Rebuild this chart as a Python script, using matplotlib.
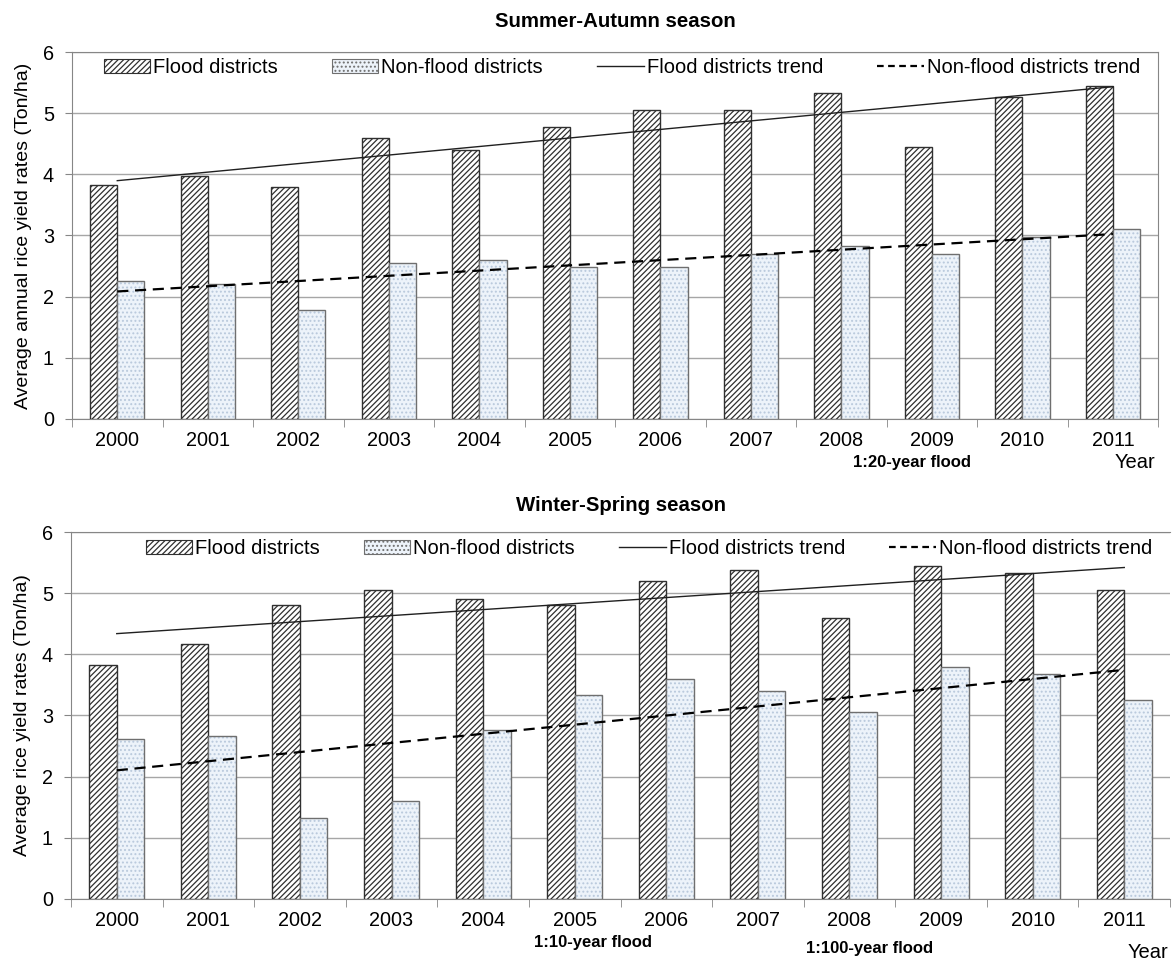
import numpy as np
import matplotlib
matplotlib.use("Agg")
import matplotlib.pyplot as plt
from matplotlib.patches import Patch
from matplotlib.lines import Line2D

plt.rcParams['font.family'] = ['Liberation Sans', 'DejaVu Sans']
plt.rcParams['hatch.linewidth'] = 0.9

years = ['2000', '2001', '2002', '2003', '2004', '2005',
         '2006', '2007', '2008', '2009', '2010', '2011']

# Summer-Autumn season
sa_flood = [3.82, 3.98, 3.80, 4.60, 4.40, 4.78, 5.05, 5.05, 5.33, 4.45, 5.27, 5.45]
sa_nonflood = [2.25, 2.20, 1.78, 2.55, 2.60, 2.48, 2.48, 2.70, 2.83, 2.70, 2.97, 3.10]

# Winter-Spring season
ws_flood = [3.82, 4.17, 4.80, 5.05, 4.90, 4.80, 5.20, 5.38, 4.60, 5.45, 5.33, 5.05]
ws_nonflood = [2.62, 2.67, 1.33, 1.60, 2.77, 3.33, 3.60, 3.40, 3.05, 3.80, 3.68, 3.25]

FLOOD_EDGE = '#303030'
NF_FACE = '#edf3fa'
NF_HATCH = '#b9c9dc'
NF_EDGE = '#6f6f6f'
GRID = '#a6a6a6'
W = 0.3


def draw_panel(ax, flood, nonflood, title, ylabel, title_pad, right_spine):
    x = np.arange(len(years))
    ax.bar(x - W / 2, flood, W, facecolor='white', edgecolor=FLOOD_EDGE,
           hatch='//////', linewidth=1.0, zorder=3)
    ax.bar(x + W / 2, nonflood, W, facecolor=NF_FACE, edgecolor=NF_HATCH,
           hatch='....', linewidth=0, zorder=3)
    ax.bar(x + W / 2, nonflood, W, fill=False, edgecolor=NF_EDGE,
           linewidth=1.0, zorder=4)

    # linear trend lines like the spreadsheet ones
    pf = np.polyfit(x, flood, 1)
    pn = np.polyfit(x, nonflood, 1)
    ax.plot(x, np.polyval(pf, x), color='#202020', lw=1.0, zorder=5)
    ax.plot(x, np.polyval(pn, x), color='black', lw=1.6, dashes=(5, 3), zorder=5)

    ax.set_xlim(-0.5, len(years) - 0.5)
    ax.set_ylim(0, 6)
    ax.set_yticks(range(0, 7))
    ax.yaxis.grid(True, color=GRID, lw=1.0, zorder=0)
    ax.set_axisbelow(True)

    ax.set_xticks(x)
    ax.set_xticklabels(years, fontsize=14.3)
    ax.set_xticks(np.arange(-0.5, len(years) + 0.5, 1), minor=True)
    ax.tick_params(axis='x', which='major', length=0, pad=9)
    ax.tick_params(axis='x', which='minor', length=6, color='#868686')
    ax.tick_params(axis='y', length=5, color='#868686', labelsize=14.3, pad=8)

    for s in ax.spines.values():
        s.set_color('#868686')
    ax.spines['right'].set_visible(right_spine)

    ax.set_title(title, fontsize=14.7, fontweight='bold', pad=title_pad)
    ax.set_ylabel(ylabel, fontsize=14, labelpad=8)

    handles = [
        Patch(facecolor='white', edgecolor=FLOOD_EDGE, hatch='//////', lw=0.8),
        Patch(facecolor=NF_FACE, edgecolor=NF_EDGE, hatch='....', lw=0.8),
        Line2D([0], [0], color='#202020', lw=1.0),
        Line2D([0], [0], color='black', lw=1.6, dashes=(3, 2)),
    ]
    labels = ['Flood districts', 'Non-flood districts',
              'Flood districts trend', 'Non-flood districts trend']
    return handles, labels


fig = plt.figure(figsize=(11.73, 9.65), dpi=100)
ax1 = fig.add_axes([0.0614, 0.566, 0.926, 0.380])
ax2 = fig.add_axes([0.0605, 0.0684, 0.937, 0.3803])

h, l = draw_panel(ax1, sa_flood, sa_nonflood, 'Summer-Autumn season',
                  'Average annual rice yield rates (Ton/ha)', 18, True)
ax1.legend(h, l, loc='upper left', bbox_to_anchor=(0.029, 0.985), ncol=4,
           frameon=False, fontsize=14.5, handlelength=2.3, handletextpad=0.15,
           columnspacing=2.7, borderaxespad=0, borderpad=0)

h, l = draw_panel(ax2, ws_flood, ws_nonflood, 'Winter-Spring season',
                  'Average rice yield rates (Ton/ha)', 15, False)
ax2.legend(h, l, loc='upper left', bbox_to_anchor=(0.068, 0.98), ncol=4,
           frameon=False, fontsize=14.5, handlelength=2.3, handletextpad=0.15,
           columnspacing=2.2, borderaxespad=0, borderpad=0)

narrow = ['Liberation Sans Narrow', 'Liberation Sans', 'DejaVu Sans']
W_, H_ = 1173, 965
fig.text(912 / W_, 1 - 462 / H_, '1:20-year flood', family=narrow,
         fontweight='bold', fontsize=12, ha='center', va='center')
fig.text(1135 / W_, 1 - 462 / H_, 'Year', fontsize=14.5, ha='center', va='center')
fig.text(593 / W_, 1 - 943 / H_, '1:10-year flood', family=narrow,
         fontweight='bold', fontsize=12, ha='center', va='center')
fig.text(870 / W_, 1 - 948 / H_, '1:100-year flood', family=narrow,
         fontweight='bold', fontsize=12, ha='center', va='center')
fig.text(1148 / W_, 1 - 953 / H_, 'Year', fontsize=14.5, ha='center', va='center')

fig.savefig('out.png', dpi=100)
